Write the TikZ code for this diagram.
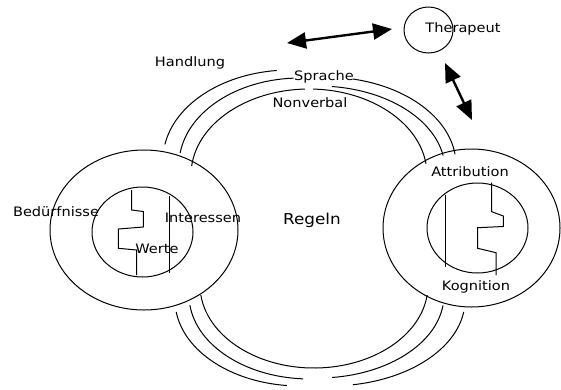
\documentclass[tikz,border=0pt]{standalone}
\usepackage{fontspec}
\setmainfont{DejaVu Sans}[FakeStretch=1.12]
\usetikzlibrary{shapes.geometric,arrows.meta}
\tikzset{
  ln/.style={line width=1pt},
  oval/.style={ellipse, draw, line width=1pt, inner sep=0pt},
  lbl/.style={font=\fontsize{13}{15}\selectfont, inner sep=0pt},
  bigarrow/.style={line width=2.4pt, {Triangle[length=19pt,width=16pt]}-{Triangle[length=19pt,width=16pt]}},
}
\begin{document}
\begin{tikzpicture}[x=1pt,y=-1pt]
\useasboundingbox (0,0) rectangle (561,389);
% outer and inner ellipses
\node[oval, minimum width=188pt, minimum height=160pt] (lo) at (144,230) {};
\node[oval, minimum width=101pt, minimum height=90pt] (li) at (142.5,232) {};
\node[oval, minimum width=177pt, minimum height=158pt] (ro) at (471.5,228) {};
\node[oval, minimum width=101pt, minimum height=90pt] (ri) at (477.5,228) {};
\node[oval, minimum width=49pt, minimum height=46pt] (th) at (428.5,30) {};
% inner lines, left
\draw[ln] (131.7,190) -- (131.7,210) -- (143.3,211.5) -- (143.3,227) -- (118.3,229) -- (118.3,248.3) -- (136.7,250) -- (136.7,275);
\draw[ln] (169,195.7) -- (169,273.3);
% inner lines, right
\draw[ln] (491.7,182.7) -- (491.7,211.7) -- (503.3,216) -- (503.3,226.5) -- (477.7,227.7) -- (477.7,248.3) -- (496,252.7) -- (496,275);
\draw[ln] (445,195) -- (445,267);
% top arcs
\draw[ln] ([shift={(290,160)}]-170:127 and 90) arc[start angle=-170, end angle=-96, x radius=127, y radius=90];
\draw[ln] ([shift={(300,165)}]-172:121 and 87) arc[start angle=-172, end angle=-93, x radius=121, y radius=87];
\draw[ln] ([shift={(309,175)}]-174:118 and 86) arc[start angle=-174, end angle=-92, x radius=118, y radius=86];
\draw[ln] ([shift={(309,175)}]-88:118 and 86) arc[start angle=-88, end angle=-7.5, x radius=118, y radius=86];
\draw[ln] ([shift={(318,170)}]-83.7:127 and 84) arc[start angle=-83.7, end angle=-10, x radius=127, y radius=84];
\draw[ln] ([shift={(325,165)}]-77.6:131 and 88) arc[start angle=-77.6, end angle=-7, x radius=131, y radius=88];
% bottom arcs
\draw[ln] ([shift={(314,285)}]173:114 and 83) arc[start angle=173, end angle=7, x radius=114, y radius=83];
\draw[ln] ([shift={(310,295)}]173:121 and 84) arc[start angle=173, end angle=93.3, x radius=121, y radius=84];
\draw[ln] ([shift={(318,295)}]83.6:126 and 83) arc[start angle=83.6, end angle=7.2, x radius=126, y radius=83];
\draw[ln] ([shift={(300,300)}]172:125 and 86) arc[start angle=172, end angle=96, x radius=125, y radius=86];
\draw[ln] ([shift={(330,300)}]80.2:135 and 86) arc[start angle=80.2, end angle=8, x radius=135, y radius=86];
% arrows
\coordinate (a1s) at (287,43);
\coordinate (a1e) at (392,29);
\coordinate (a2s) at (445,63);
\coordinate (a2e) at (472,120);
\draw[bigarrow] (a1s) -- (a1e);
\draw[bigarrow] (a2s) -- (a2e);
% labels
\node[lbl] (handlung) at (190,63) {Handlung};
\node[lbl] (sprache) at (324,77) {Sprache};
\node[lbl] (nonverbal) at (310,103) {Nonverbal};
\node[lbl] (therapeut) at (463,29) {Therapeut};
\node[lbl] (beduerf) at (56,212) {Bedürfnisse};
\node[lbl] (interessen) at (203,218) {Interessen};
\node[lbl] (werte) at (157,249) {Werte};
\node[lbl, font=\fontsize{15}{17}\selectfont] (regeln) at (312,220) {Regeln};
\node[lbl] (attribution) at (470,172) {Attribution};
\node[lbl] (kognition) at (476,287) {Kognition};
\end{tikzpicture}
\end{document}
